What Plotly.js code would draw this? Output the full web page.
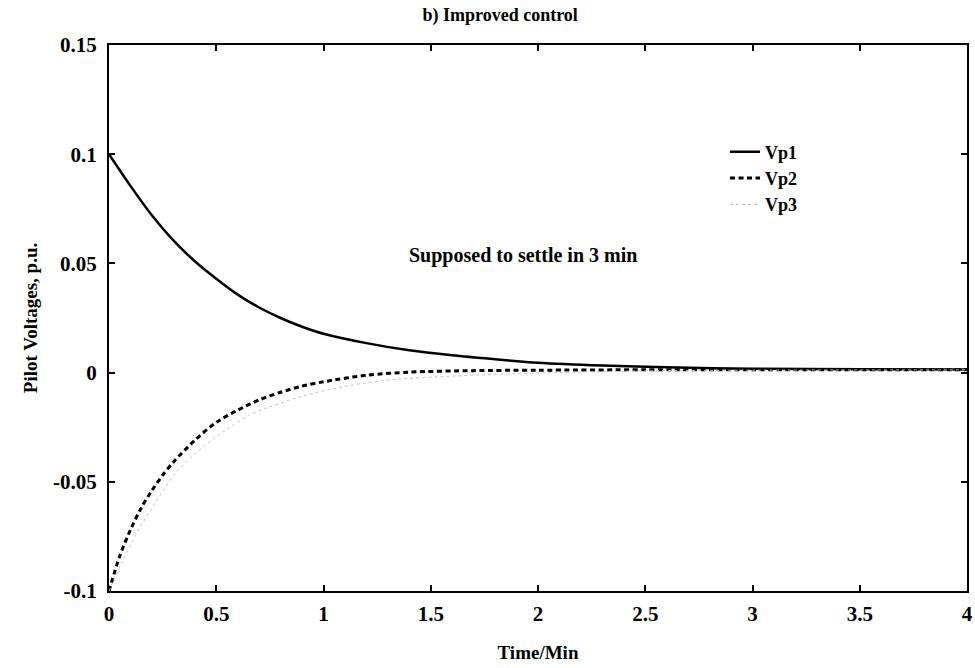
<!DOCTYPE html>
<html>
<head>
<meta charset="utf-8">
<script src="https://cdn.plot.ly/plotly-3.0.1.min.js"></script>
<style>html,body{margin:0;padding:0;background:#fff;}#chart{width:975px;height:668px;}</style>
</head>
<body>
<div id="chart"></div>
<script>
// Vp1 (solid)
const t1 = [0, 0.1, 0.2, 0.3, 0.4, 0.5, 0.6, 0.7, 0.8, 0.9, 1.0, 1.2, 1.4, 1.6, 1.8, 2.0, 2.3, 2.6, 3.0, 3.5, 4.0];
const vp1 = [0.1, 0.0855, 0.072, 0.0605, 0.051, 0.043, 0.0357, 0.0298, 0.025, 0.021, 0.0178, 0.0135, 0.0102, 0.0079, 0.0061, 0.0045, 0.0032, 0.0024, 0.0018, 0.0015, 0.0014];
// Vp2 (dashed)
const t2 = [0, 0.05, 0.1, 0.15, 0.2, 0.25, 0.3, 0.4, 0.5, 0.6, 0.7, 0.8, 0.9, 1.0, 1.2, 1.4, 1.7, 2.0, 2.5, 3.0, 4.0];
const vp2 = [-0.1, -0.084, -0.072, -0.062, -0.054, -0.047, -0.041, -0.031, -0.0228, -0.0172, -0.0125, -0.009, -0.0062, -0.0042, -0.0012, 0.0002, 0.0009, 0.0011, 0.0013, 0.0013, 0.0013];
// Vp3 (faint dotted)
const t3 = [0, 0.05, 0.1, 0.15, 0.213, 0.307, 0.408, 0.494, 0.54, 0.65, 0.743, 0.883, 1.023, 1.27, 1.645, 2.0, 2.5, 3.0, 4.0];
const vp3 = [-0.1, -0.089, -0.079, -0.07, -0.060, -0.0464, -0.0366, -0.0297, -0.0266, -0.0197, -0.0159, -0.0113, -0.0078, -0.0037, -0.0014, -0.0002, 0.0008, 0.0011, 0.0013];

const xTicks = [0, 0.5, 1, 1.5, 2, 2.5, 3, 3.5, 4];
const xTickText = ['0', '0.5', '1', '1.5', '2', '2.5', '3', '3.5', '4'];
const yTicks = [-0.1, -0.05, 0, 0.05, 0.1, 0.15];
const yTickText = ['-0.1', '-0.05', '0', '0.05', '0.1', '0.15'];

const seriesNames = ['Vp1', 'Vp2', 'Vp3'];
const chartTitle = 'b) Improved control';
const xTitle = 'Time/Min';
const yTitle = 'Pilot Voltages, p.u.';
const noteText = 'Supposed to settle in 3 min';

const FONT = 'Liberation Serif, Times New Roman, serif';

const traces = [
  {x: t1, y: vp1, name: seriesNames[0], mode: 'lines', line: {color: '#000', width: 2.5, shape: 'spline', smoothing: 0.8}},
  {x: t2, y: vp2, name: seriesNames[1], mode: 'lines', line: {color: '#000', width: 3, dash: '5px,3.5px', shape: 'spline', smoothing: 0.8}},
  {x: t3, y: vp3, name: seriesNames[2], mode: 'lines', line: {color: '#c4c4c4', width: 1, dash: 'dot', shape: 'spline', smoothing: 0.8}}
];

const axisCommon = {
  showline: true, linecolor: '#000', linewidth: 2, mirror: 'ticks',
  ticks: 'inside', ticklen: 6, tickwidth: 2, tickcolor: '#000',
  showgrid: false, zeroline: false,
  tickfont: {family: FONT, size: 21, color: '#000', weight: 'bold'},
  tickmode: 'array'
};

const layout = {
  width: 975, height: 668,
  margin: {l: 109, r: 8, t: 45, b: 77},
  paper_bgcolor: '#fff', plot_bgcolor: '#fff',
  font: {family: FONT, color: '#000'},
  title: {text: '<b>' + chartTitle + '</b>', font: {family: FONT, size: 18, color: '#000'}, x: 0.513, xanchor: 'center', y: 0.978, yanchor: 'middle'},
  xaxis: Object.assign({}, axisCommon, {
    range: [0, 4], tickvals: xTicks, ticktext: xTickText, ticklabelstandoff: 3,
    title: {text: '<b>' + xTitle + '</b>', font: {family: FONT, size: 19, color: '#000'}, standoff: 20}
  }),
  yaxis: Object.assign({}, axisCommon, {
    range: [-0.1, 0.15], tickvals: yTicks, ticktext: yTickText, ticklabelstandoff: 6,
    title: {text: '<b>' + yTitle + '</b>', font: {family: FONT, size: 19, color: '#000'}, standoff: 10}
  }),
  showlegend: true,
  legend: {
    x: 0.718, y: 0.838, xanchor: 'left', yanchor: 'top',
    bgcolor: 'rgba(0,0,0,0)', borderwidth: 0,
    font: {family: FONT, size: 18, color: '#000', weight: 'bold'},
    tracegroupgap: 0
  },
  annotations: [{
    xref: 'x', yref: 'y', x: 1.93, y: 0.0536, text: '<b>' + noteText + '</b>',
    showarrow: false, font: {family: FONT, size: 20, color: '#000'}, xanchor: 'center', yanchor: 'middle'
  }]
};

Plotly.newPlot('chart', traces, layout, {displayModeBar: false, staticPlot: true});
</script>
</body>
</html>
